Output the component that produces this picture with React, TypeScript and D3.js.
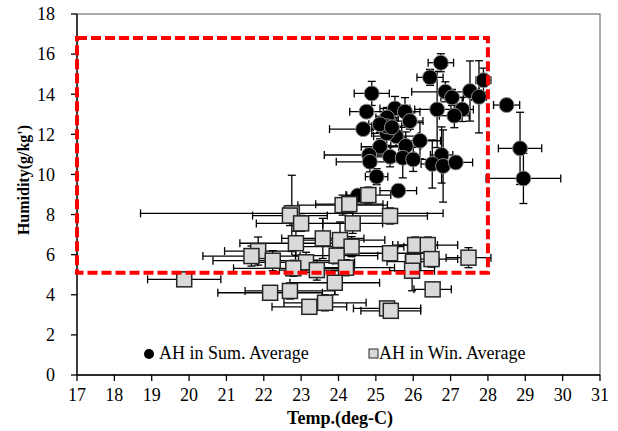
import * as d3 from 'd3';

// summer averages: temp, humidity, +/- errors
const sumTemp = [26.74, 26.45, 27.88, 27.52, 27.76, 28.5, 28.86, 28.95, 24.89, 24.75, 24.66, 25.51, 25.3, 25.78, 25.91, 25.54, 25.29, 25.11, 26.18, 25.8, 24.82, 24.84, 25.38, 25.72, 26.0, 26.64, 26.86, 27.04, 27.31, 27.1, 26.76, 26.51, 26.8, 27.14, 25.02, 25.6, 24.52, 25.29, 25.11, 25.43];
const sumHum = [15.57, 14.84, 14.7, 14.16, 13.87, 13.46, 11.3, 9.8, 14.04, 13.13, 12.26, 13.29, 12.84, 13.13, 12.66, 11.91, 12.05, 11.38, 11.68, 11.42, 10.97, 10.63, 10.88, 10.83, 10.75, 13.24, 14.12, 13.84, 13.24, 12.93, 10.97, 10.52, 10.42, 10.6, 9.89, 9.19, 8.95, 12.4, 12.5, 12.35];
const sumTempErr = [0.34, 0.35, 0.2, 0.15, 0.2, 0.35, 0.58, 1.0, 0.47, 0.45, 0.9, 0.4, 0.3, 0.4, 0.35, 0.6, 0.4, 0.5, 0.55, 0.4, 1.2, 0.9, 0.45, 0.4, 0.6, 0.6, 0.9, 0.3, 0.3, 0.4, 0.3, 0.3, 0.3, 0.45, 0.3, 0.49, 0.3, 0.4, 0.3, 0.5];
const sumHumErr = [0.45, 0.4, 0.6, 1.5, 1.8, 0.3, 1.8, 1.25, 0.6, 0.3, 0.3, 0.6, 0.5, 0.7, 0.4, 0.5, 0.6, 0.4, 0.9, 0.7, 0.4, 0.5, 0.5, 1.0, 0.6, 1.9, 0.5, 0.4, 0.6, 0.6, 1.4, 1.2, 1.8, 0.3, 0.4, 0.3, 0.3, 0.5, 0.4, 0.6];

// winter averages
const winTemp = [19.87, 22.75, 22.7, 23.0, 22.86, 23.58, 24.04, 21.85, 21.67, 22.24, 23.13, 22.79, 23.42, 22.17, 22.7, 23.22, 23.64, 23.9, 24.11, 24.29, 24.8, 25.38, 24.38, 24.35, 25.38, 26.05, 26.39, 26.49, 26.0, 25.97, 27.48, 26.52, 25.3, 25.4, 23.95, 24.2];
const winHum = [4.77, 8.06, 7.95, 7.56, 6.57, 6.81, 6.73, 6.18, 5.93, 5.7, 5.62, 5.32, 5.23, 4.1, 4.19, 3.4, 3.6, 4.6, 8.47, 8.52, 8.97, 7.93, 7.56, 6.4, 6.07, 6.48, 6.48, 5.78, 5.65, 5.2, 5.85, 4.27, 3.32, 3.2, 5.95, 5.35];
const winTempErr = [0.98, 4.05, 1.0, 1.2, 1.5, 1.1, 1.2, 0.9, 1.3, 1.6, 1.3, 1.6, 1.0, 1.4, 1.2, 1.0, 1.1, 1.2, 1.2, 0.9, 0.6, 1.0, 0.8, 1.4, 1.0, 0.6, 0.8, 0.7, 0.7, 0.6, 0.6, 0.5, 0.9, 0.8, 1.1, 1.3];
const winHumErr = [0.15, 1.9, 0.5, 0.4, 0.6, 1.0, 0.9, 0.7, 0.5, 0.5, 0.5, 0.4, 0.5, 0.3, 0.4, 0.3, 0.4, 0.6, 0.5, 0.4, 0.4, 0.4, 0.5, 0.5, 0.3, 0.4, 0.4, 0.4, 0.5, 1.0, 0.5, 0.2, 0.2, 0.2, 0.4, 0.4];

const xTicks = d3.range(17, 32, 1);
const yTicks = d3.range(0, 19, 2);
const seriesNames = ['AH in Sum. Average', 'AH in Win. Average'];
// highlighted range: temp 17-28, humidity 5.1-16.8
const boxTemp = [17, 28];
const boxHum = [5.1, 16.8];

const W = 618;
const H = 431;
const left = 77, right = 600, top = 14, bottom = 375;
const font = "'Liberation Serif', 'Times New Roman', serif";

export default function App() {
  const x = d3.scaleLinear().domain([17, 31]).range([left, right]);
  const y = d3.scaleLinear().domain([0, 18]).range([bottom, top]);
  const cap = 4;

  const errBars = (tx: number[], hy: number[], te: number[], he: number[], key: string) =>
    tx.map((t, i) => {
      const cx = x(t), cy = y(hy[i]);
      const x0 = x(t - te[i]), x1 = x(t + te[i]);
      const y0 = y(hy[i] - he[i]), y1 = y(hy[i] + he[i]);
      return (
        <g key={key + i} stroke="#000" strokeWidth={1.3}>
          <line x1={x0} x2={x1} y1={cy} y2={cy} />
          <line x1={x0} x2={x0} y1={cy - cap} y2={cy + cap} />
          <line x1={x1} x2={x1} y1={cy - cap} y2={cy + cap} />
          <line x1={cx} x2={cx} y1={y0} y2={y1} />
          <line x1={cx - cap} x2={cx + cap} y1={y0} y2={y0} />
          <line x1={cx - cap} x2={cx + cap} y1={y1} y2={y1} />
        </g>
      );
    });

  return (
    <svg width={W} height={H} style={{ position: 'absolute', left: 0, top: 0, background: '#fff', fontFamily: font }}>
      {/* plot frame */}
      <rect x={left} y={top} width={right - left} height={bottom - top} fill="none" stroke="#595959" strokeWidth={1} />

      {/* axes */}
      <line x1={left} x2={left} y1={top} y2={bottom} stroke="#000" strokeWidth={1.3} />
      <line x1={left} x2={right} y1={bottom} y2={bottom} stroke="#000" strokeWidth={1.3} />
      {yTicks.map(v => (
        <g key={'yt' + v}>
          <line x1={left - 6} x2={left} y1={y(v)} y2={y(v)} stroke="#000" strokeWidth={1.3} />
          <text x={55} y={y(v)} dy="0.35em" textAnchor="end" fontSize={18}>{v}</text>
        </g>
      ))}
      {xTicks.map(v => (
        <g key={'xt' + v}>
          <line x1={x(v)} x2={x(v)} y1={bottom} y2={bottom + 6} stroke="#000" strokeWidth={1.3} />
          <text x={x(v)} y={bottom + 26} textAnchor="middle" fontSize={18}>{v}</text>
        </g>
      ))}

      <text x={340} y={424} textAnchor="middle" fontSize={18} fontWeight="bold">Temp.(deg-C)</text>
      <text transform={`translate(29,180) rotate(-90)`} textAnchor="middle" fontSize={16} fontWeight="bold">Humidity(g/kg')</text>

      {/* summer */}
      {errBars(sumTemp, sumHum, sumTempErr, sumHumErr, 's')}
      {sumTemp.map((t, i) => (
        <circle key={'sc' + i} cx={x(t)} cy={y(sumHum[i])} r={7.5} fill="#000" stroke="#8c8c8c" strokeWidth={1} />
      ))}

      {/* winter */}
      {errBars(winTemp, winHum, winTempErr, winHumErr, 'w')}
      {winTemp.map((t, i) => (
        <rect key={'wr' + i} x={x(t) - 7.5} y={y(winHum[i]) - 7.5} width={15} height={15} fill="#d9d9d9" stroke="#262626" strokeWidth={1.5} />
      ))}

      {/* highlight box */}
      <rect x={x(boxTemp[0])} y={y(boxHum[1])} width={x(boxTemp[1]) - x(boxTemp[0])} height={y(boxHum[0]) - y(boxHum[1])}
        fill="none" stroke="#ff0000" strokeWidth={4} strokeDasharray="10,4" />

      {/* legend */}
      <circle cx={149} cy={354} r={5} fill="#000" />
      <text x={159} y={359} fontSize={18}>{seriesNames[0]}</text>
      <rect x={369} y={349} width={9} height={9} fill="#d9d9d9" stroke="#262626" strokeWidth={1} />
      <text x={379} y={359} fontSize={18}>{seriesNames[1]}</text>
    </svg>
  );
}
